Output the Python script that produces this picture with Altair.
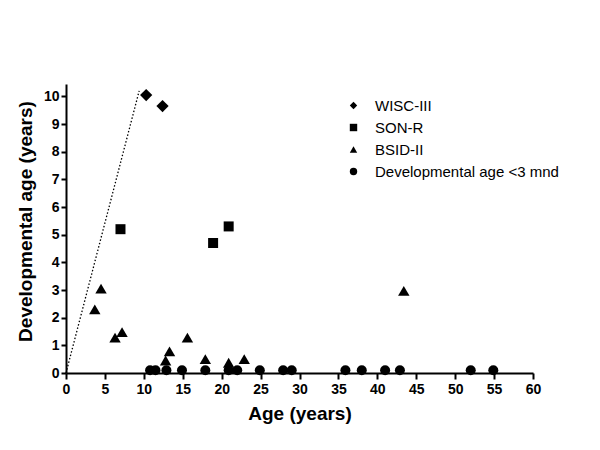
import altair as alt
import pandas as pd

# Data
wisc_x = [10.3, 12.4]
wisc_y = [10.05, 9.65]
sonr_x = [7.0, 18.9, 20.9]
sonr_y = [5.2, 4.7, 5.3]
bsid_x = [3.7, 4.5, 6.3, 7.2, 12.8, 13.3, 15.6, 17.9, 20.9, 22.9, 43.4]
bsid_y = [2.3, 3.05, 1.28, 1.48, 0.45, 0.78, 1.28, 0.5, 0.37, 0.5, 2.97]
dev_x = [10.8, 11.5, 12.9, 14.9, 17.9, 20.9, 22.0, 24.9, 27.9, 29.0,
         35.9, 38.0, 41.0, 42.9, 52.0, 54.9]
dev_y = [0.1] * len(dev_x)
line_x = [0, 9.4]
line_y = [0, 10.2]

groups = ["WISC-III", "SON-R", "BSID-II", "Developmental age <3 mnd"]
shapes = ["diamond", "square", "triangle-up", "circle"]
sizes = [150, 100, 130, 100]

rows = []
for name, xs, ys in [(groups[0], wisc_x, wisc_y), (groups[1], sonr_x, sonr_y),
                     (groups[2], bsid_x, bsid_y), (groups[3], dev_x, dev_y)]:
    for a, b in zip(xs, ys):
        rows.append({"age": a, "dev": b, "test": name})
df = pd.DataFrame(rows)
line_df = pd.DataFrame({"age": line_x, "dev": line_y})

FONT = "Liberation Sans"

xscale = alt.Scale(domain=[0, 60], nice=False)
yscale = alt.Scale(domain=[0, 10.45], nice=False)

xaxis = alt.Axis(values=list(range(0, 61, 5)), title="Age (years)", grid=False,
                 labelFont=FONT, labelFontSize=14, labelFontWeight="bold", labelColor="black",
                 titleFont=FONT, titleFontSize=19, titleFontWeight="bold", titleColor="black",
                 domainColor="black", domainWidth=2, tickColor="black", tickWidth=2, tickSize=6,
                 labelPadding=3, titlePadding=8, labelFlush=False)
yaxis = alt.Axis(values=list(range(0, 11)), title="Developmental age (years)", grid=False,
                 labelFont=FONT, labelFontSize=14, labelFontWeight="bold", labelColor="black",
                 titleFont=FONT, titleFontSize=19, titleFontWeight="bold", titleColor="black",
                 domainColor="black", domainWidth=2, tickColor="black", tickWidth=2, tickSize=5,
                 labelPadding=2, titlePadding=8, titleY=137)

legend = alt.Legend(title=None, orient="none", legendX=280, legendY=14,
                    labelFont=FONT, labelFontSize=15, labelColor="black", labelLimit=400,
                    symbolSize=55, symbolFillColor="black", symbolStrokeColor="black",
                    symbolType="circle", rowPadding=6, labelOffset=14, padding=0)
shape_scale = alt.Scale(domain=groups, range=shapes)

line = alt.Chart(line_df).mark_line(color="black", strokeDash=[1.5, 2], strokeWidth=1.3).encode(
    x=alt.X("age:Q", scale=xscale, axis=xaxis),
    y=alt.Y("dev:Q", scale=yscale, axis=yaxis),
)

layers = [line]
for g, s in zip(groups, sizes):
    layers.append(
        alt.Chart(df).transform_filter(alt.datum.test == g)
        .mark_point(filled=True, opacity=1, color="black", size=s)
        .encode(
            x=alt.X("age:Q", scale=xscale, axis=xaxis),
            y=alt.Y("dev:Q", scale=yscale, axis=yaxis),
            shape=alt.Shape("test:N", scale=shape_scale, legend=legend),
        )
    )

chart = alt.layer(*layers).properties(
    width=467, height=289,
    autosize=alt.AutoSizeParams(type="none"),
    padding={"left": 58, "top": 76, "right": 59, "bottom": 69},
    background="white",
).configure_view(stroke=None)

chart.save("out.html", embed_options={"renderer": "svg", "actions": False})
